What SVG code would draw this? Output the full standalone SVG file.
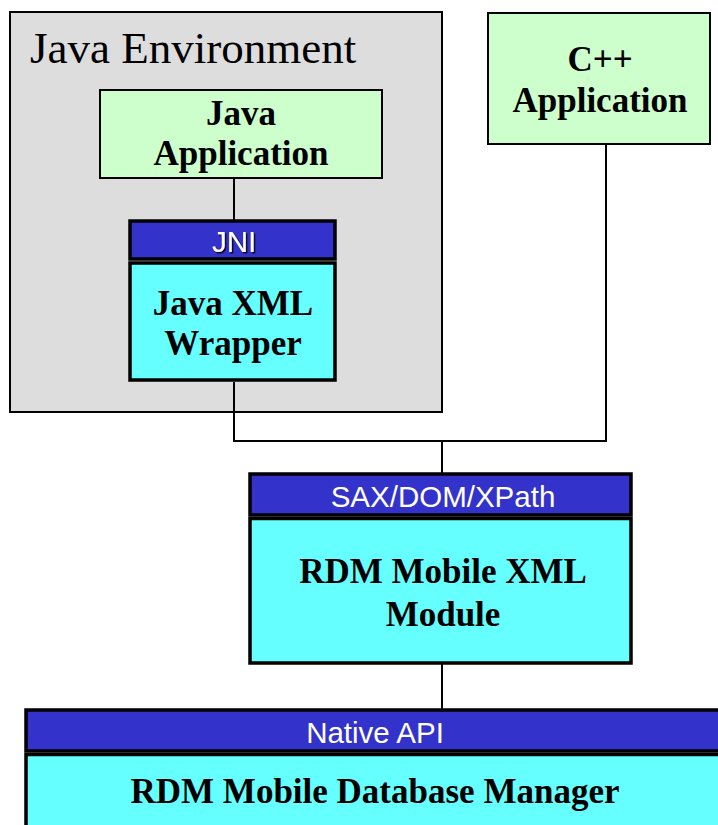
<svg xmlns="http://www.w3.org/2000/svg" width="718" height="825" viewBox="0 0 718 825">
<style>
.env{fill:#DDDDDD;stroke:#000;stroke-width:2}
.app{fill:#CCFFCC;stroke:#000;stroke-width:2}
.hdr{fill:#3333CC;stroke:#000;stroke-width:3.5}
.body{fill:#66FFFF;stroke:#000;stroke-width:3.5}
.conn{fill:none;stroke:#000;stroke-width:2}
.t{font-family:"Liberation Serif","Times New Roman",serif;font-weight:bold;font-size:35px;fill:#000;text-anchor:middle}
.h{font-family:"Liberation Sans",Arial,sans-serif;font-size:29.5px;fill:#fff;text-anchor:middle}
.title{font-family:"Liberation Serif","Times New Roman",serif;font-size:45px;fill:#000}
</style>
<defs>
<filter id="shadow" x="-20%" y="-20%" width="140%" height="140%">
<feDropShadow dx="1.5" dy="1.5" stdDeviation="0.4" flood-color="#000" flood-opacity="0.9"/>
</filter>
</defs>
<g id="java-environment">
<rect class="env" x="10" y="12" width="432" height="400"/>
<text class="title" x="30" y="63">Java Environment</text>
</g>
<g id="connectors">
<line class="conn" x1="234" y1="178" x2="234" y2="220"/>
<polyline class="conn" points="234,382 234,441 606,441 606,144"/>
<line class="conn" x1="442" y1="441" x2="442" y2="473"/>
<line class="conn" x1="442" y1="664" x2="442" y2="709"/>
</g>
<g id="java-application">
<rect class="app" x="100" y="90" width="282" height="88"/>
<text class="t" x="241" y="125">Java</text>
<text class="t" x="241" y="165">Application</text>
</g>
<g id="cpp-application">
<rect class="app" x="488" y="13" width="222" height="131"/>
<text class="t" x="600" y="71">C++</text>
<text class="t" x="600" y="112">Application</text>
</g>
<g id="java-xml-wrapper">
<rect class="hdr" x="130" y="221" width="205" height="38"/>
<rect class="body" x="130" y="263" width="205" height="117"/>
<text class="h" x="234" y="252" filter="url(#shadow)">JNI</text>
<text class="t" x="233" y="315">Java XML</text>
<text class="t" x="233" y="355">Wrapper</text>
</g>
<g id="rdm-mobile-xml-module">
<rect class="hdr" x="250" y="474" width="381" height="41"/>
<rect class="body" x="250" y="518.5" width="381" height="144.5"/>
<text class="h" x="443" y="507">SAX/DOM/XPath</text>
<text class="t" x="443" y="583">RDM Mobile XML</text>
<text class="t" x="443" y="626">Module</text>
</g>
<g id="rdm-mobile-database-manager">
<rect class="hdr" x="26" y="710" width="700" height="41"/>
<rect class="body" x="26" y="754.5" width="700" height="100"/>
<text class="h" x="375" y="743">Native API</text>
<text class="t" x="375" y="803">RDM Mobile Database Manager</text>
</g>
</svg>
